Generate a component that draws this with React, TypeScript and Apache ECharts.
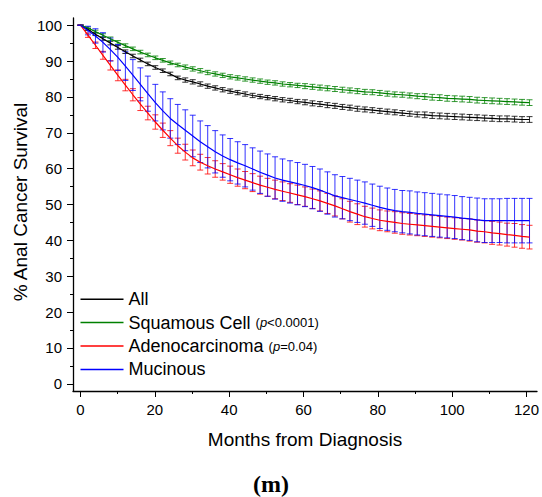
import React, { useEffect, useRef } from 'react';
import * as echarts from 'echarts';

const months = [0,2,4,6,8,10,12,14,16,18,20,22,24,26,28,30,32,34,36,38,40,42,44,46,48,50,52,54,56,58,60,62,64,66,68,70,72,74,76,78,80,82,84,86,88,90,92,94,96,98,100,102,104,106,108,110,112,114,116,118,120];

const allSurv = [100,98.8,97.5,96.2,95.0,93.8,92.6,91.4,90.3,89.2, 88.2,87.3,86.4,85.3,84.7,84.2,83.6,83.0,82.5,82.0, 81.6,81.2,80.8,80.4,80.1,79.8,79.5,79.2,79.0,78.7, 78.5,78.2,78.0,77.7,77.5,77.2,77.0,76.7,76.5,76.3, 76.1,75.9,75.7,75.5,75.3,75.1,75.0,74.8,74.7,74.6, 74.5,74.4,74.3,74.2,74.1,74.0,73.9,73.9,73.8,73.7,73.7];
const allErr = [0,0.3,0.4,0.4,0.5,0.5,0.5,0.5,0.5,0.5, 0.5,0.5,0.5,0.5,0.6,0.6,0.6,0.6,0.6,0.6, 0.6,0.6,0.6,0.6,0.6,0.6,0.6,0.6,0.6,0.6, 0.7,0.7,0.7,0.7,0.7,0.7,0.7,0.7,0.7,0.7, 0.7,0.7,0.7,0.7,0.7,0.7,0.8,0.8,0.8,0.8, 0.8,0.8,0.8,0.8,0.8,0.8,0.8,0.8,0.8,0.8,0.8];

const squamousSurv = [100,99.2,98.2,97.2,96.2,95.2,94.3,93.4,92.5,91.7, 90.9,90.2,89.5,88.9,88.3,87.8,87.3,86.8,86.4,86.0, 85.6,85.3,85.0,84.7,84.4,84.1,83.9,83.6,83.4,83.2, 83.0,82.8,82.6,82.4,82.2,82.0,81.8,81.6,81.4,81.3, 81.1,80.9,80.7,80.6,80.4,80.2,80.1,79.9,79.8,79.6, 79.5,79.4,79.3,79.1,79.0,78.9,78.8,78.7,78.6,78.5,78.4];
const squamousErr = [0,0.3,0.4,0.4,0.5,0.5,0.5,0.5,0.5,0.5, 0.5,0.5,0.5,0.5,0.6,0.6,0.6,0.6,0.6,0.6, 0.6,0.6,0.6,0.6,0.6,0.6,0.6,0.6,0.6,0.6, 0.7,0.7,0.7,0.7,0.7,0.7,0.7,0.7,0.7,0.7, 0.7,0.7,0.7,0.7,0.7,0.7,0.8,0.8,0.8,0.8, 0.8,0.8,0.8,0.8,0.8,0.8,0.8,0.8,0.8,0.8,0.8];

const adenoSurv = [100,97.2,94.4,91.6,88.8,86.0,83.3,80.6,78.0,75.5, 73.0,70.7,68.5,66.4,64.6,63.0,61.8,60.8,59.9,59.1, 58.3,57.5,56.8,56.1,55.4,54.8,54.2,53.7,53.2,52.7, 52.2,51.6,51.0,50.3,49.6,48.8,48.0,47.3,46.6,46.1, 45.6,45.3,45.0,44.7,44.5,44.3,44.1,43.9,43.7,43.5, 43.3,43.1,42.9,42.6,42.4,42.1,41.9,41.6,41.4,41.1,40.9];
const adenoErr = [0,0.6,0.9,1.1,1.3,1.5,1.6,1.7,1.8,1.9, 2.0,2.0,2.1,2.1,2.2,2.2,2.2,2.3,2.3,2.3, 2.4,2.4,2.4,2.5,2.5,2.5,2.6,2.6,2.6,2.7, 2.7,2.7,2.8,2.8,2.8,2.8,2.9,2.9,2.9,2.9, 2.9,2.9,3.0,3.0,3.0,3.0,3.0,3.0,3.0,3.0, 3.0,3.0,3.1,3.1,3.1,3.2,3.2,3.2,3.3,3.3,3.3];

const mucinousSurv = [100,98.5,97.0,95.2,93.2,91.0,88.6,86.1,83.5,80.9, 78.4,76.1,74.0,72.3,70.7,69.1,67.5,66.1,64.7,63.5, 62.5,61.6,60.8,59.9,59.0,58.2,57.4,56.8,56.3,55.8, 55.3,54.7,54.0,53.2,52.4,51.9,51.4,50.9,50.4,49.8, 49.2,48.7,48.3,48.0,47.8,47.5,47.3,47.1,46.9,46.7, 46.5,46.2,46.0,45.7,45.5,45.5,45.5,45.5,45.5,45.5,45.5];
const mucinousErr = [0,1.2,2.0,2.7,3.2,3.6,4.0,4.3,4.6,4.9, 5.1,5.3,5.5,5.6,5.7,5.8,5.8,5.9,5.9,5.9, 5.9,5.9,5.9,5.9,5.9,5.9,5.9,5.9,5.9,5.9, 5.9,5.9,5.9,5.9,5.9,5.9,5.9,5.9,5.9,5.9, 5.9,5.9,5.9,5.9,6.0,6.0,6.0,6.0,6.0,6.0, 6.0,6.0,6.0,6.1,6.1,6.1,6.1,6.2,6.2,6.2,6.2];

const seriesNames = ['All', 'Squamous Cell', 'Adenocarcinoma', 'Mucinous'];
const seriesColors = ['#000000', '#008000', '#ff0000', '#0000ff'];
const pValues = ['', '<0.0001', '=0.04', ''];

const xTicks = { min: 0, max: 120, interval: 20 };
const yTicks = { min: 0, max: 100, interval: 10 };

const FONT = '"Liberation Sans", Arial, sans-serif';

function buildOption() {
  const survs = [allSurv, squamousSurv, adenoSurv, mucinousSurv];
  const errs = [allErr, squamousErr, adenoErr, mucinousErr];
  const series: any[] = [];
  [0, 1, 2, 3].forEach((i) => {
    const color = seriesColors[i];
    series.push({
      type: 'custom',
      name: seriesNames[i] + ' CI',
      xAxisIndex: 0,
      yAxisIndex: 0,
      silent: true,
      encode: { x: 0, y: [1, 2] },
      data: months.map((m, k) => [m, survs[i][k] - errs[i][k], survs[i][k] + errs[i][k]]),
      renderItem: (params: any, api: any) => {
        const x = api.value(0);
        const lo = api.value(1);
        const hi = api.value(2);
        const a = api.coord([x, lo]);
        const b = api.coord([x, hi]);
        const w = 3;
        const st = { stroke: color, lineWidth: 1, opacity: 0.8 };
        return {
          type: 'group',
          children: [
            { type: 'line', shape: { x1: a[0], y1: a[1], x2: b[0], y2: b[1] }, style: st },
            { type: 'line', shape: { x1: a[0] - w, y1: a[1], x2: a[0] + w, y2: a[1] }, style: st },
            { type: 'line', shape: { x1: b[0] - w, y1: b[1], x2: b[0] + w, y2: b[1] }, style: st },
          ],
        };
      },
      z: 2,
    });
    series.push({
      type: 'line',
      name: seriesNames[i],
      xAxisIndex: 0,
      yAxisIndex: 0,
      data: months.map((m, k) => [m, survs[i][k]]),
      showSymbol: false,
      symbol: 'none',
      lineStyle: { color, width: 1.2 },
      itemStyle: { color },
      z: 3,
    });
  });

  return {
    animation: false,
    backgroundColor: '#ffffff',
    grid: [
      { left: 73, right: 5, top: 18, bottom: 106 },
      { left: 80.484, right: 12.484, top: 25.173, bottom: 113.173 },
    ],
    xAxis: [
      {
        gridIndex: 0, type: 'value', min: -2, max: 122,
        axisLine: { show: true, onZero: false, lineStyle: { color: '#000', width: 1.3 } },
        axisTick: { show: false }, axisLabel: { show: false }, splitLine: { show: false },
      },
      {
        gridIndex: 1, type: 'value', min: xTicks.min, max: xTicks.max, interval: xTicks.interval, offset: 7.17,
        axisLine: { show: false, onZero: false },
        axisTick: { show: true, length: 6, lineStyle: { color: '#000', width: 1 } },
        minorTick: { show: true, splitNumber: 2, length: 3, lineStyle: { color: '#000', width: 1 } },
        axisLabel: { color: '#000', fontSize: 15, fontFamily: FONT, margin: 11 },
        splitLine: { show: false },
      },
    ],
    yAxis: [
      {
        gridIndex: 0, type: 'value', min: -2, max: 102,
        axisLine: { show: true, onZero: false, lineStyle: { color: '#000', width: 1.3 } },
        axisTick: { show: false }, axisLabel: { show: false }, splitLine: { show: false },
      },
      {
        gridIndex: 1, type: 'value', min: yTicks.min, max: yTicks.max, interval: yTicks.interval, offset: 7.48,
        axisLine: { show: false, onZero: false },
        axisTick: { show: true, length: 6, lineStyle: { color: '#000', width: 1 } },
        minorTick: { show: true, splitNumber: 2, length: 3, lineStyle: { color: '#000', width: 1 } },
        axisLabel: { color: '#000', fontSize: 15, fontFamily: FONT, margin: 11 },
        splitLine: { show: false },
      },
    ],
    legend: {
      orient: 'vertical',
      left: 80.5,
      top: 287.5,
      padding: 0,
      itemWidth: 43,
      itemHeight: 1.5,
      itemGap: 0,
      icon: 'rect',
      data: seriesNames.map((n, i) => ({ name: n, itemStyle: { color: seriesColors[i] } })),
      formatter: (name: string) => {
        const i = seriesNames.indexOf(name);
        const p = pValues[i];
        if (!p) return '{t|' + name + '}';
        return '{t|' + name + ' }{s|(}{i|p}{s|' + p + ')}';
      },
      textStyle: {
        color: '#000',
        fontFamily: FONT,
        fontSize: 18,
        lineHeight: 23.4,
        rich: {
          t: { fontSize: 18, fontFamily: FONT, color: '#000', lineHeight: 23.4 },
          s: { fontSize: 13, fontFamily: FONT, color: '#000', lineHeight: 23.4 },
          i: { fontSize: 13, fontFamily: FONT, fontStyle: 'italic', color: '#000', lineHeight: 23.4 },
        },
      },
      selectedMode: false,
    },
    graphic: [
      {
        type: 'text',
        x: 305,
        y: 439.5,
        style: { text: 'Months from Diagnosis', font: '19px "Liberation Sans", Arial, sans-serif', fill: '#000', align: 'center', verticalAlign: 'middle' },
      },
      {
        type: 'text',
        x: 20.8,
        y: 202,
        rotation: Math.PI / 2,
        style: { text: '% Anal Cancer Survival', font: '19px "Liberation Sans", Arial, sans-serif', fill: '#000', align: 'center', verticalAlign: 'middle' },
      },
      {
        type: 'text',
        x: 271,
        y: 484,
        style: { text: '(m)', font: 'bold 24px "Liberation Serif", "DejaVu Serif", serif', fill: '#000', align: 'center', verticalAlign: 'middle' },
      },
    ],
    series,
  };
}

export default function App() {
  const ref = useRef<HTMLDivElement>(null);
  useEffect(() => {
    if (!ref.current) return;
    const chart = echarts.init(ref.current, null, { renderer: 'svg' });
    chart.setOption(buildOption() as any);
    return () => chart.dispose();
  }, []);
  return (
    <div
      ref={ref}
      style={{ position: 'fixed', left: 0, top: 0, width: 542, height: 497, background: '#fff' }}
    />
  );
}
